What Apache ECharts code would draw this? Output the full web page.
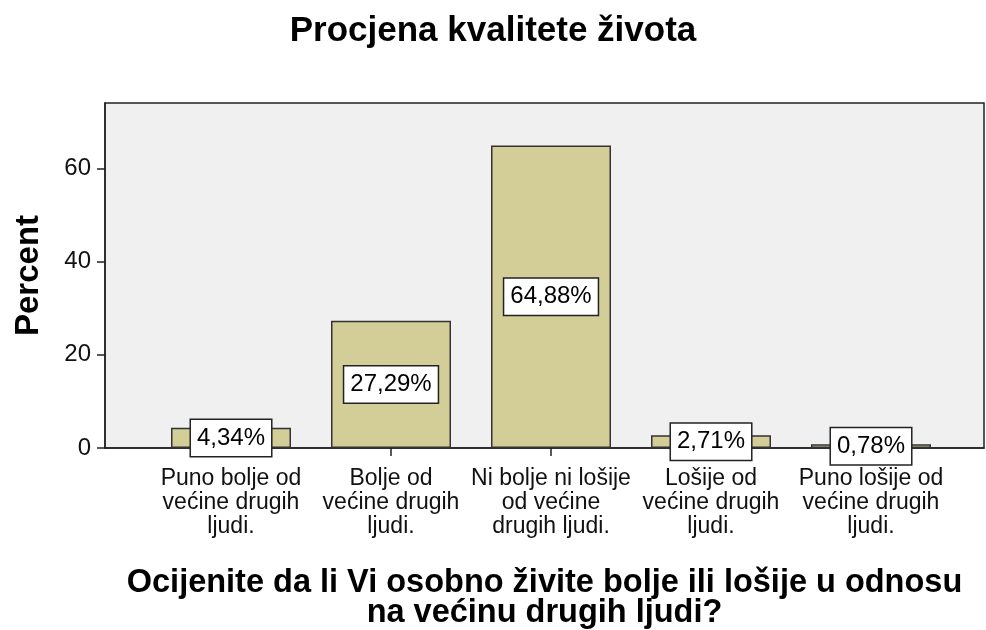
<!DOCTYPE html>
<html>
<head>
<meta charset="utf-8">
<script src="https://cdn.jsdelivr.net/npm/echarts@6/dist/echarts.min.js"></script>
<style>
  html, body { margin: 0; padding: 0; background: #fff; }
  #chart { width: 986px; height: 630px; }
</style>
</head>
<body>
<div id="chart"></div>
<script>
var categories = [
    'Puno bolje od\nvećine drugih\nljudi.',
    'Bolje od\nvećine drugih\nljudi.',
    'Ni bolje ni lošije\nod većine\ndrugih ljudi.',
    'Lošije od\nvećine drugih\nljudi.',
    'Puno lošije od\nvećine drugih\nljudi.'
];
var percents = [4.34, 27.29, 64.88, 2.71, 0.78];
var yTicks = [0, 20, 40, 60];

var font = 'Liberation Sans, Arial, sans-serif';
var myChart = echarts.init(document.getElementById('chart'));

option = {
    backgroundColor: '#fff',
    animation: false,
    title: {
        text: 'Procjena kvalitete života',
        left: 'center',
        top: 9,
        textStyle: { fontFamily: font, fontSize: 35, fontWeight: 'bold', color: '#000' }
    },
    grid: [
        // frame of the plot
        { left: 105, right: 2, top: 103, bottom: 182, show: true, outerBoundsMode: 'none', containLabel: false,
          backgroundColor: '#f0f0f0', borderColor: '#222', borderWidth: 1.5 },
        // bars
        { left: 151, width: 800, top: 103, bottom: 182, outerBoundsMode: 'none', containLabel: false }
    ],
    xAxis: [
        {
            gridIndex: 0, type: 'value', min: 0, max: 1,
            name: 'Ocijenite da li Vi osobno živite bolje ili lošije u odnosu\nna većinu drugih ljudi?',
            nameLocation: 'middle',
            nameGap: 120,
            nameTextStyle: { fontFamily: font, fontSize: 32.5, fontWeight: 'bold', color: '#000', lineHeight: 30 },
            axisLine: { show: true, lineStyle: { color: '#222', width: 1.5 } },
            axisTick: { show: false },
            axisLabel: { show: false },
            splitLine: { show: false }
        },
        {
            gridIndex: 1, type: 'category', data: categories,
            axisLine: { show: false },
            axisTick: { show: true, alignWithLabel: true, length: 8, lineStyle: { color: '#222', width: 1.5 } },
            axisLabel: { margin: 19, fontFamily: font, fontSize: 23, lineHeight: 24, color: '#111', interval: 0 },
            splitLine: { show: false }
        }
    ],
    yAxis: [
        {
            gridIndex: 0, type: 'value', min: 0, max: 74,
            name: 'Percent',
            nameLocation: 'middle',
            nameGap: 60,
            nameTextStyle: { fontFamily: font, fontSize: 33, fontWeight: 'bold', color: '#000' },
            axisLine: { show: true, lineStyle: { color: '#222', width: 1.5 } },
            axisTick: { show: true, length: 8, customValues: yTicks, lineStyle: { color: '#222', width: 1.5 } },
            axisLabel: { margin: 14, fontFamily: font, fontSize: 24, color: '#111', customValues: yTicks },
            splitLine: { show: false }
        },
        { gridIndex: 1, type: 'value', min: 0, max: 74, show: false }
    ],
    series: [
        {
            name: 'Percent',
            type: 'bar',
            xAxisIndex: 1,
            yAxisIndex: 1,
            barWidth: 120,
            data: percents,
            itemStyle: { color: '#d3cd97', borderColor: '#333', borderWidth: 1.5 },
            label: {
                show: true,
                position: 'inside',
                fontFamily: font,
                fontSize: 24,
                color: '#000',
                backgroundColor: '#fff',
                borderColor: '#222',
                borderWidth: 1.5,
                padding: [8, 6, 4, 6],
                formatter: function (p) { return p.value.toFixed(2).replace('.', ',') + '%'; }
            }
        }
    ]
};

myChart.setOption(option);
</script>
</body>
</html>
